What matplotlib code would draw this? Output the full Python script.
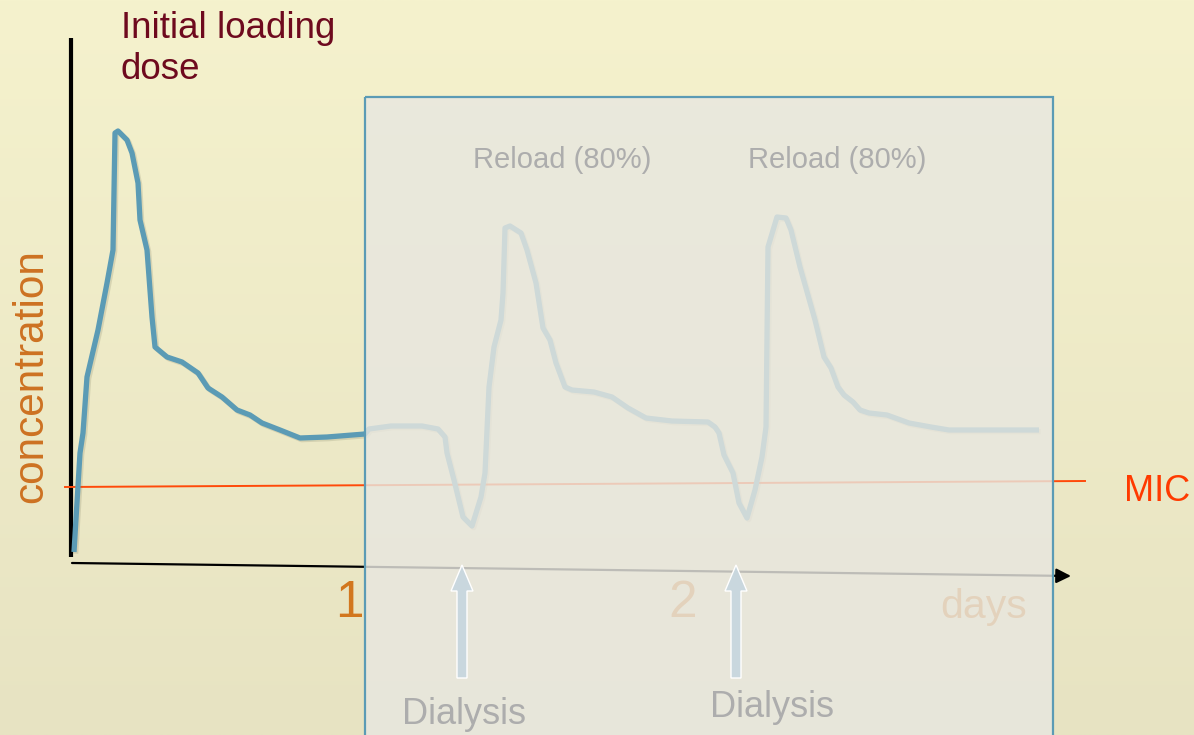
#!/usr/bin/env python3
import numpy as np
import matplotlib
matplotlib.use("Agg")
import matplotlib.pyplot as plt
from matplotlib.patches import Rectangle, FancyArrow
import matplotlib.patheffects as pe

# Concentration curve (pixel positions, y grows downward)
curve_x = [74, 80, 83, 87, 98, 107, 113, 115, 118, 127, 132, 138, 140, 147, 152, 155,
           167, 182, 198, 208, 222, 237, 250, 262, 280, 300, 327, 365,
           369, 391, 422, 438, 445, 447, 454, 463, 472, 481, 485, 489, 494, 501, 503,
           505, 510, 521, 527, 536, 543, 550, 556, 565, 572, 594, 612, 628, 646, 672,
           708, 715, 719, 724, 733, 739, 747, 755, 762, 766, 768, 777, 786, 791, 800,
           815, 824, 831, 838, 844, 853, 860, 869, 887, 909, 931, 949, 994, 1039]
curve_y = [552, 453, 433, 377, 330, 283, 250, 133, 131, 140, 153, 183, 220, 250, 317, 347,
           357, 362, 373, 388, 397, 410, 415, 423, 430, 438, 437, 434,
           429, 426, 426, 429, 437, 453, 480, 517, 526, 497, 473, 387, 347, 320, 293,
           228, 226, 233, 250, 283, 328, 340, 363, 387, 390, 392, 397, 408, 418, 421,
           422, 427, 433, 455, 473, 503, 518, 490, 457, 427, 247, 217, 218, 230, 267,
           320, 357, 368, 387, 395, 402, 410, 413, 415, 423, 427, 430, 430, 430]

mic_x = [65, 1085]
mic_y = [487, 481]

day_labels = ["1", "2"]
day_label_x = [349, 683]

dialysis_x = [462, 736]
dialysis_label_x = [402, 710]
dialysis_label_y = [724, 717]

reload_labels = ["Reload (80%)", "Reload (80%)"]
reload_x = [473, 748]

W, H = 1194, 735
plt.rcParams['font.family'] = ['Liberation Sans', 'DejaVu Sans']

fig = plt.figure(figsize=(W / 100, H / 100), dpi=100)
ax = fig.add_axes([0, 0, 1, 1])
ax.set_xlim(0, W)
ax.set_ylim(H, 0)
ax.axis('off')

# slide background gradient
top = np.array([245, 242, 205]) / 255
bot = np.array([231, 227, 194]) / 255
t = np.linspace(0, 1, 256)[:, None, None]
grad = top * (1 - t) + bot * t
ax.imshow(np.repeat(grad, 2, axis=1), extent=[0, W, H, 0], aspect='auto', zorder=0)

# axes of the sketch
ax.plot([71, 71], [38, 557], color='black', lw=3, solid_capstyle='butt', zorder=2)
ax.annotate('', xy=(1071, 576), xytext=(72, 563),
            arrowprops=dict(arrowstyle='-|>', color='black', lw=1.6,
                            mutation_scale=22, shrinkA=0, shrinkB=0), zorder=2)

# MIC line
ax.plot(mic_x, mic_y, color='#FF4A0A', lw=1.4, zorder=2)
ax.text(1124, 501, "MIC", color='#FF3A00', fontsize=26, ha='left', va='baseline')

# concentration curve
ax.plot(curve_x, curve_y, color='#5B9BB5', lw=3.8, solid_joinstyle='round',
        solid_capstyle='butt', zorder=3,
        path_effects=[pe.SimpleLineShadow(offset=(1.2, -1.2), shadow_color='#6b6b50',
                                          alpha=0.18), pe.Normal()])

# labels
ax.text(121, 11, "Initial loading\ndose", color='#6E0A1E', fontsize=26.5,
        ha='left', va='top', linespacing=1.24)
ax.text(31, 376, "concentration", color='#CD7222', fontsize=30.5, rotation=90,
        ha='center', va='center')
for lab, lx in zip(day_labels, day_label_x):
    ax.text(lx, 617, lab, color='#D2771E', fontsize=37, ha='center', va='baseline', zorder=2)
ax.text(940, 618, "days", color='#D2771E', fontsize=29.5, ha='left', va='baseline', zorder=2)

# greyed-out overlay for the dialysis period
ax.add_patch(Rectangle((365, 97), 688, 700, facecolor='#E8E7E0', alpha=0.82,
                       edgecolor='none', zorder=5))
ax.add_patch(Rectangle((365, 97), 688, 700, facecolor='none',
                       edgecolor='#5B9BB5', lw=1.6, zorder=6))

for dx in dialysis_x:
    ax.add_patch(FancyArrow(dx, 678, 0, -113, width=10, head_width=22, head_length=26,
                            length_includes_head=True, facecolor='#C9D7DE',
                            edgecolor='white', lw=1.0, zorder=7))
for lx, ly in zip(dialysis_label_x, dialysis_label_y):
    ax.text(lx, ly, "Dialysis", color='#ADADAD', fontsize=26, ha='left',
            va='baseline', zorder=7)
for lab, rx in zip(reload_labels, reload_x):
    ax.text(rx, 168, lab, color='#ADADAD', fontsize=21, ha='left', va='baseline', zorder=7)

fig.savefig("out.png", dpi=100)
